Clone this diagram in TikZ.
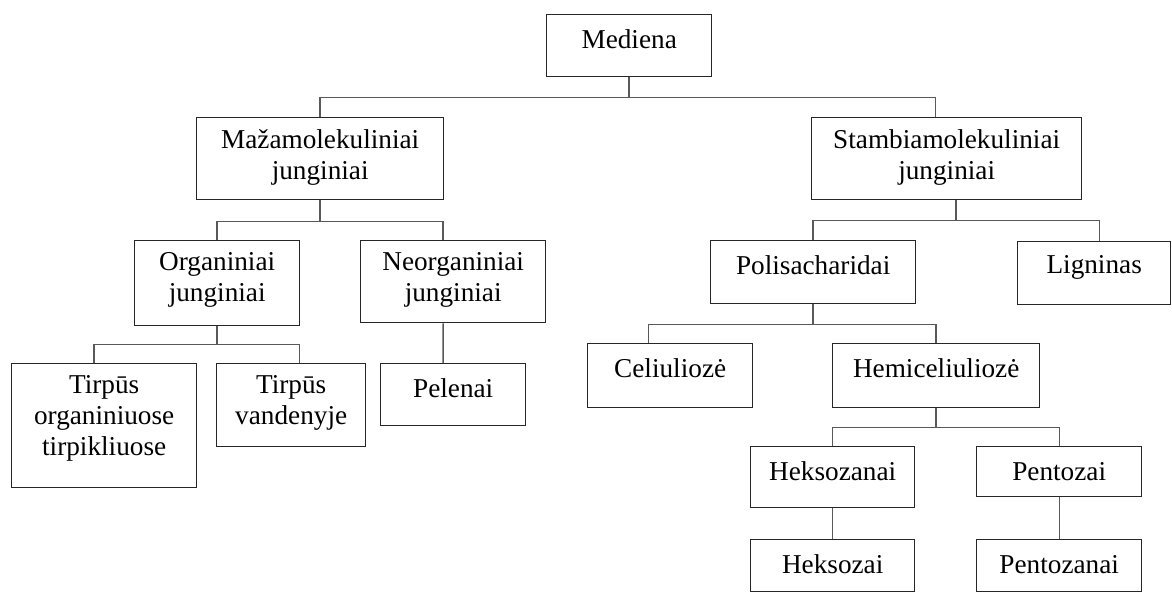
\documentclass[tikz,border=0pt]{standalone}
\usepackage{fontspec}
\setmainfont{Liberation Serif}
\tikzset{
    box/.style = {draw = black!85, line width = 0.8pt, rectangle, anchor = north west, inner sep = 0pt},
    txt/.style = {anchor = north, inner sep = 0pt, align = center, font = \fontsize{15.5}{17.5}\selectfont, execute at begin node = \strut},
    conn/.style = {draw = black!65, line width = 0.8pt}
}
\begin{document}
\begin{tikzpicture}[x = 0.02cm, y = -0.02cm]
        \useasboundingbox (0, 0) rectangle (1172, 593);
        \node [box, minimum width = 3.30cm, minimum height = 1.24cm] (med) at (546, 14) {};
        \node [box, minimum width = 4.94cm, minimum height = 1.64cm] (maza) at (196, 117) {};
        \node [box, minimum width = 5.40cm, minimum height = 1.64cm] (stamb) at (811, 117) {};
        \node [box, minimum width = 3.30cm, minimum height = 1.70cm] (org) at (134, 240) {};
        \node [box, minimum width = 3.70cm, minimum height = 1.64cm] (neorg) at (360, 240) {};
        \node [box, minimum width = 4.10cm, minimum height = 1.26cm] (poli) at (710, 240) {};
        \node [box, minimum width = 3.06cm, minimum height = 1.26cm] (lign) at (1017, 241) {};
        \node [box, minimum width = 3.70cm, minimum height = 2.48cm] (torg) at (11, 363) {};
        \node [box, minimum width = 2.98cm, minimum height = 1.66cm] (tvand) at (216, 363) {};
        \node [box, minimum width = 2.90cm, minimum height = 1.24cm] (pel) at (380, 363) {};
        \node [box, minimum width = 3.30cm, minimum height = 1.28cm] (cel) at (587, 343) {};
        \node [box, minimum width = 4.14cm, minimum height = 1.28cm] (hemi) at (832, 343) {};
        \node [box, minimum width = 3.28cm, minimum height = 1.22cm] (heksn) at (750, 446) {};
        \node [box, minimum width = 3.30cm, minimum height = 1.00cm] (pentai) at (976, 446) {};
        \node [box, minimum width = 3.28cm, minimum height = 1.04cm] (heks) at (750, 539) {};
        \node [box, minimum width = 3.30cm, minimum height = 1.04cm] (pentan) at (976, 539) {};
        \node [txt] (medt) at ([yshift = -0.25cm] med.north) {Mediena};
        \node [txt] (mazat) at ([yshift = -0.25cm] maza.north) {Mažamolekuliniai\\junginiai};
        \node [txt] (stambt) at ([yshift = -0.25cm] stamb.north) {Stambiamolekuliniai\\junginiai};
        \node [txt] (orgt) at ([yshift = -0.25cm] org.north) {Organiniai\\junginiai};
        \node [txt] (neorgt) at ([yshift = -0.25cm] neorg.north) {Neorganiniai\\junginiai};
        \node [txt] (polit) at ([yshift = -0.25cm] poli.north) {Polisacharidai};
        \node [txt] (lignt) at ([yshift = -0.22cm] lign.north) {Ligninas};
        \node [txt] (torgt) at ([yshift = -0.25cm] torg.north) {Tirpūs\\organiniuose\\tirpikliuose};
        \node [txt] (tvandt) at ([yshift = -0.25cm] tvand.north) {Tirpūs\\vandenyje};
        \node [txt] (pelt) at ([yshift = -0.25cm] pel.north) {Pelenai};
        \node [txt] (celt) at ([yshift = -0.25cm] cel.north) {Celiuliozė};
        \node [txt] (hemit) at ([yshift = -0.25cm] hemi.north) {Hemiceliuliozė};
        \node [txt] (heksnt) at ([yshift = -0.25cm] heksn.north) {Heksozanai};
        \node [txt] (pentait) at ([yshift = -0.25cm] pentai.north) {Pentozai};
        \node [txt] (hekst) at ([yshift = -0.25cm] heks.north) {Heksozai};
        \node [txt] (pentant) at ([yshift = -0.25cm] pentan.north) {Pentozanai};
        \draw [conn] (med.south) -- ++(0, 20) -| (maza.north);
        \draw [conn] (med.south) -- ++(0, 20) -| ([xshift = -0.22cm] stamb.north);
        \draw [conn] (maza.south) -- ++(0, 21) -| (org.north);
        \draw [conn] (maza.south) -- ++(0, 21) -| ([xshift = -0.2cm] neorg.north);
        \draw [conn] ([xshift = 0.19cm] stamb.south) -- ++(0, 20) -| (poli.north);
        \draw [conn] ([xshift = 0.19cm] stamb.south) -- ++(0, 20) -| ([xshift = 0.11cm] lign.north);
        \draw [conn] (org.south) -- ++(0, 18) -| ([xshift = -0.2cm] torg.north);
        \draw [conn] (org.south) -- ++(0, 18) -| ([xshift = 0.17cm] tvand.north);
        \draw [conn] ([xshift = -0.2cm] neorg.south) -- ([xshift = -0.2cm] pel.north);
        \draw [conn] (poli.south) -- ++(0, 20) -| ([xshift = -0.43cm] cel.north);
        \draw [conn] (poli.south) -- ++(0, 20) -| (hemi.north);
        \draw [conn] (hemi.south) -- ++(0, 19) -| (heksn.north);
        \draw [conn] (hemi.south) -- ++(0, 19) -| (pentai.north);
        \draw [conn] (heksn.south) -- (heks.north);
        \draw [conn] (pentai.south) -- (pentan.north);
    \end{tikzpicture}
\end{document}
